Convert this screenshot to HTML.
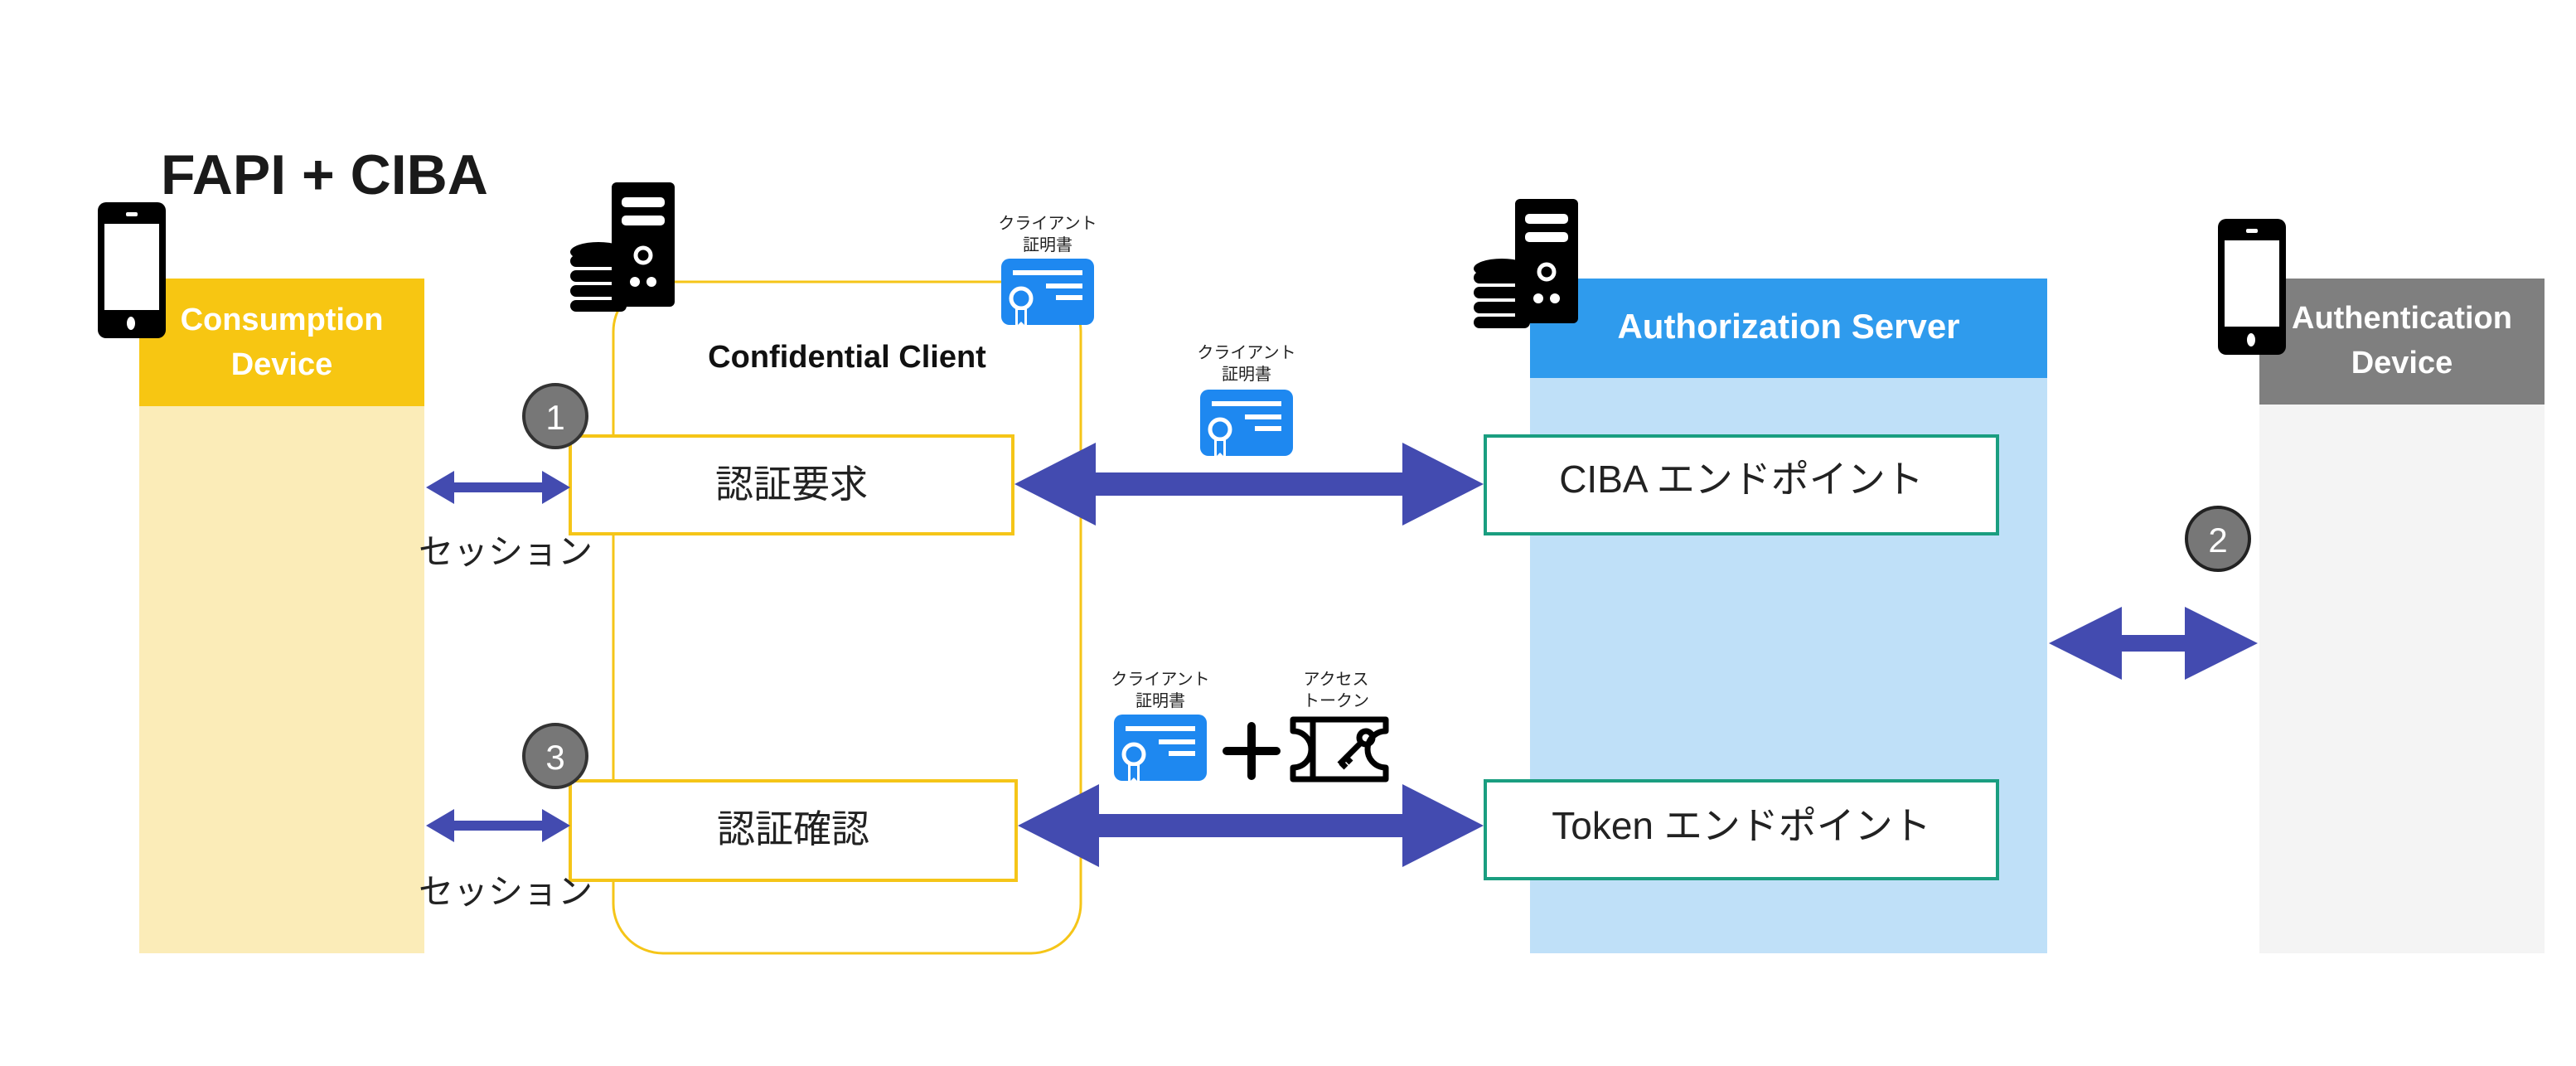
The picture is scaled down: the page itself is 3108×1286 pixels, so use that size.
<!DOCTYPE html>
<html><head><meta charset="utf-8"><style>
html,body{margin:0;padding:0;background:#fff}
svg{display:block}
text{font-family:"Liberation Sans","Noto Sans CJK JP",sans-serif}
</style></head><body>
<svg width="3108" height="1286" viewBox="0 0 3108 1286" xmlns="http://www.w3.org/2000/svg">
<defs>
<g id="cert">
<rect x="0" y="0" width="112" height="80" rx="10" fill="#1E88F0"/>
<rect x="14" y="14" width="84" height="6" fill="#fff"/>
<rect x="54" y="30" width="44" height="6" fill="#fff"/>
<rect x="66" y="44" width="32" height="6" fill="#fff"/>
<circle cx="24" cy="48" r="12" fill="#1E88F0" stroke="#fff" stroke-width="5"/>
<path d="M17 60 V86 L24 80 L31 86 V60 Z" fill="#fff"/>
<path d="M20 62 V80 L24 76 L28 80 V62 Z" fill="#1E88F0"/>
</g>
<g id="server">
<rect x="54" y="0" width="76" height="150" rx="6" fill="#000"/>
<rect x="66" y="18" width="52" height="12" rx="5" fill="#fff"/>
<rect x="66" y="40" width="52" height="12" rx="5" fill="#fff"/>
<circle cx="92" cy="88" r="9" fill="none" stroke="#fff" stroke-width="5"/>
<circle cx="82" cy="120" r="6" fill="#fff"/><circle cx="102" cy="120" r="6" fill="#fff"/>
<g fill="#000">
<ellipse cx="38" cy="84" rx="34" ry="12"/>
<rect x="4" y="88" width="68" height="14" rx="7"/>
<rect x="4" y="106" width="68" height="14" rx="7"/>
<rect x="4" y="124" width="68" height="14" rx="7"/>
<rect x="4" y="142" width="68" height="14" rx="7"/>
</g>
</g>
<g id="phone">
<rect x="0" y="0" width="82" height="164" rx="10" fill="#000"/>
<rect x="8" y="26" width="66" height="104" fill="#fff"/>
<rect x="34" y="12" width="14" height="5" rx="2" fill="#fff"/>
<ellipse cx="40" cy="146" rx="5" ry="8" fill="#fff"/>
</g>
</defs>

<text x="194" y="234" font-size="68" font-weight="bold" fill="#1a1a1a">FAPI + CIBA</text>

<rect x="168" y="336" width="344" height="814" fill="#FBECB8"/>
<rect x="168" y="336" width="344" height="154" fill="#F7C612"/>
<text x="340" y="398" font-size="38" font-weight="bold" fill="#fff" text-anchor="middle">Consumption</text>
<text x="340" y="452" font-size="38" font-weight="bold" fill="#fff" text-anchor="middle">Device</text>
<use href="#phone" x="118" y="244"/>

<rect x="740" y="340" width="564" height="810" rx="60" fill="none" stroke="#F5C518" stroke-width="3"/>
<use href="#server" x="684" y="220"/>
<use href="#cert" x="1208" y="312"/>
<text x="1264" y="276" font-size="20" text-anchor="middle" fill="#222">クライアント</text>
<text x="1264" y="302" font-size="20" text-anchor="middle" fill="#222">証明書</text>
<text x="1022" y="443" font-size="38" font-weight="bold" text-anchor="middle" fill="#111">Confidential Client</text>

<rect x="688" y="526" width="534" height="118" fill="#fff" stroke="#F5C518" stroke-width="4"/>
<text x="955" y="600" font-size="46" text-anchor="middle" fill="#222">認証要求</text>
<rect x="688" y="942" width="538" height="120" fill="#fff" stroke="#F5C518" stroke-width="4"/>
<text x="957" y="1016" font-size="46" text-anchor="middle" fill="#222">認証確認</text>

<circle cx="670" cy="502" r="38" fill="#777" stroke="#333" stroke-width="4"/>
<text x="670" y="518" font-size="42" text-anchor="middle" fill="#fff">1</text>
<circle cx="670" cy="912" r="38" fill="#777" stroke="#333" stroke-width="4"/>
<text x="670" y="928" font-size="42" text-anchor="middle" fill="#fff">3</text>

<g fill="#434BB0">
<path d="M514 588 L548 568 V582 H654 V568 L688 588 L654 608 V594 H548 V608 Z"/>
<path d="M514 996 L548 976 V990 H654 V976 L688 996 L654 1016 V1002 H548 V1016 Z"/>
<path d="M1224 584 L1322 534 V570 H1692 V534 L1790 584 L1692 634 V598 H1322 V634 Z"/>
<path d="M1228 996 L1326 946 V982 H1692 V946 L1790 996 L1692 1046 V1010 H1326 V1046 Z"/>
<path d="M2472 776 L2560 732 V766 H2636 V732 L2724 776 L2636 820 V786 H2560 V820 Z"/>
</g>
<text x="610" y="680" font-size="42" text-anchor="middle" fill="#222">セッション</text>
<text x="610" y="1090" font-size="42" text-anchor="middle" fill="#222">セッション</text>

<use href="#cert" x="1448" y="470"/>
<text x="1504" y="432" font-size="20" text-anchor="middle" fill="#222">クライアント</text>
<text x="1504" y="458" font-size="20" text-anchor="middle" fill="#222">証明書</text>

<use href="#cert" x="1344" y="862"/>
<text x="1400" y="826" font-size="20" text-anchor="middle" fill="#222">クライアント</text>
<text x="1400" y="852" font-size="20" text-anchor="middle" fill="#222">証明書</text>
<path d="M1480 906 H1540 M1510 876 V936" stroke="#000" stroke-width="10" stroke-linecap="round"/>
<text x="1612" y="826" font-size="20" text-anchor="middle" fill="#222">アクセス</text>
<text x="1612" y="852" font-size="20" text-anchor="middle" fill="#222">トークン</text>
<g fill="none" stroke="#000" stroke-width="7" stroke-linejoin="round">
<path d="M1560 868 H1672 V882 A22 22 0 0 0 1672 926 V940 H1560 V926 A22 22 0 0 0 1560 882 Z"/>
<path d="M1584 868 V940"/>
<circle cx="1648" cy="890" r="8"/>
<path d="M1642 896 L1616 922 M1624 914 L1630 920 M1618 920 L1624 926"/>
</g>

<rect x="1846" y="336" width="624" height="814" fill="#BFE0F8"/>
<rect x="1846" y="336" width="624" height="120" fill="#2F9BED"/>
<text x="2158" y="408" font-size="42" font-weight="bold" fill="#fff" text-anchor="middle">Authorization Server</text>
<use href="#server" x="1774" y="240"/>
<rect x="1792" y="526" width="618" height="118" fill="#fff" stroke="#1A9E80" stroke-width="4"/>
<text x="2101" y="594" font-size="46" text-anchor="middle" fill="#222">CIBA エンドポイント</text>
<rect x="1792" y="942" width="618" height="118" fill="#fff" stroke="#1A9E80" stroke-width="4"/>
<text x="2101" y="1012" font-size="46" text-anchor="middle" fill="#222">Token エンドポイント</text>

<rect x="2726" y="336" width="344" height="814" fill="#F4F4F4"/>
<rect x="2726" y="336" width="344" height="152" fill="#7F7F7F"/>
<text x="2898" y="396" font-size="38" font-weight="bold" fill="#fff" text-anchor="middle">Authentication</text>
<text x="2898" y="450" font-size="38" font-weight="bold" fill="#fff" text-anchor="middle">Device</text>
<use href="#phone" x="2676" y="264"/>
<circle cx="2676" cy="650" r="38" fill="#777" stroke="#222" stroke-width="4"/>
<text x="2676" y="666" font-size="42" text-anchor="middle" fill="#fff">2</text>
</svg>
</body></html>
